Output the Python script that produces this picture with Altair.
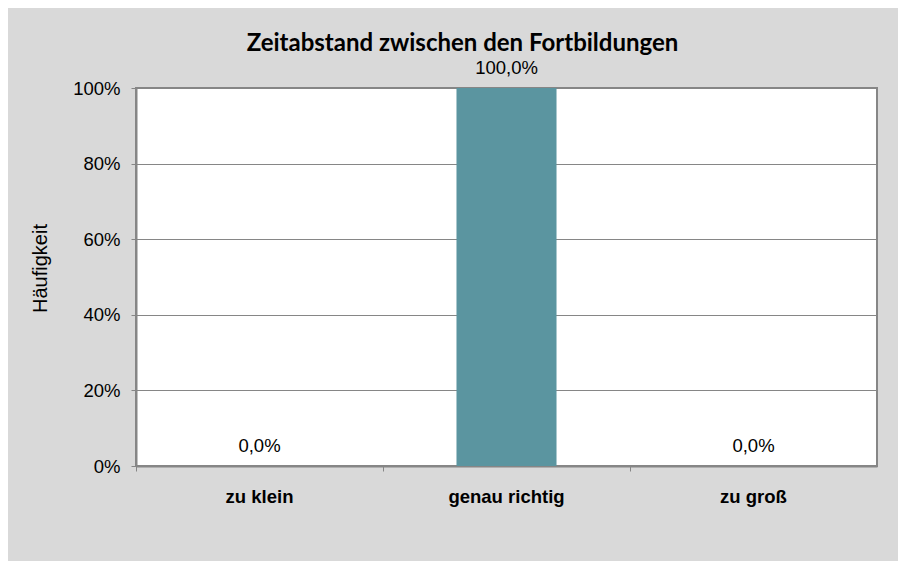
import altair as alt
import pandas as pd

categories = ["zu klein", "genau richtig", "zu groß"]
values = [0.0, 1.0, 0.0]
y_ticks = [0, 0.2, 0.4, 0.6, 0.8, 1.0]

labels = [f"{v * 100:.1f}%".replace(".", ",") for v in values]
df = pd.DataFrame({"Kategorie": categories, "Wert": values, "Label": labels})

FONT = "Liberation Sans"
GRID = "#868686"

x_enc = alt.X(
    "Kategorie:N",
    sort=categories,
    scale=alt.Scale(paddingInner=0, paddingOuter=0),
    axis=alt.Axis(
        title=None,
        labelAngle=0,
        labelFont=FONT,
        labelFontSize=18.5,
        labelFontWeight="bold",
        labelColor="black",
        labelBaseline="alphabetic",
        labelPadding=31,
        bandPosition=0,
        tickSize=5,
        tickColor=GRID,
        tickWidth=1,
        domainColor=GRID,
        domainWidth=2,
    ),
)

y_enc = alt.Y(
    "Wert:Q",
    scale=alt.Scale(domain=[0, 1], nice=False),
    axis=alt.Axis(
        title="Häufigkeit",
        values=y_ticks,
        format=".0%",
        labelFont=FONT,
        labelFontSize=18.5,
        labelColor="black",
        labelPadding=11,
        tickSize=5,
        tickColor=GRID,
        tickWidth=1,
        domainColor=GRID,
        domainWidth=2,
        grid=True,
        gridColor=GRID,
        gridWidth=1,
        titleFont=FONT,
        titleFontSize=20,
        titleFontWeight="normal",
        titleColor="black",
        titleAngle=270,
        titleBaseline="middle",
        titleAlign="center",
        titleX=-96,
        titleY=180,
    ),
)

bars = alt.Chart(df).mark_bar(
    color="#5b95a0", width=alt.RelativeBandSize(0.405)
).encode(x=x_enc, y=y_enc)

text = alt.Chart(df).mark_text(
    font=FONT, fontSize=18.5, color="black", baseline="alphabetic", dy=-14
).encode(x=alt.X("Kategorie:N", sort=categories), y="Wert:Q", text="Label:N")

chart = (
    alt.layer(bars, text)
    .properties(
        width=741,
        height=378,
        title=alt.TitleParams(
            "Zeitabstand zwischen den Fortbildungen",
            font="Lato",
            fontSize=24,
            fontWeight="bold",
            color="black",
            anchor="middle",
            baseline="alphabetic",
            dx=-44,
            dy=24,
            offset=8,
        ),
        autosize=alt.AutoSizeParams(type="none"),
        padding={"left": 128, "top": 80, "right": 21, "bottom": 95},
        background="#d9d9d9",
    )
    .configure_view(fill="white", stroke=GRID, strokeWidth=2)
)

chart.save("out.html", embed_options={"renderer": "svg", "actions": False})
